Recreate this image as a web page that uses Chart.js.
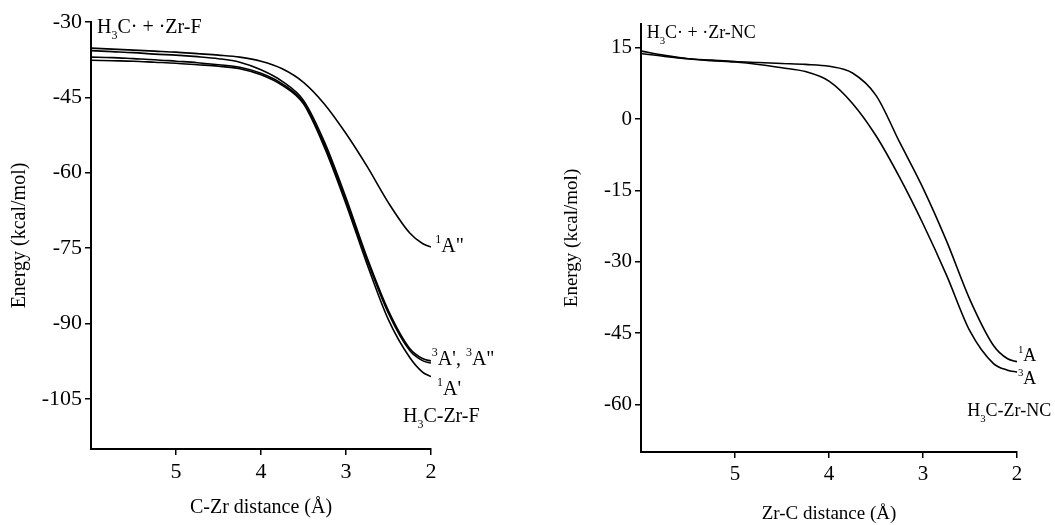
<!DOCTYPE html>
<html>
<head>
<meta charset="utf-8">
<script src="https://cdn.jsdelivr.net/npm/chart.js@4"></script>
<style>
    body { margin: 0; background: #fff; }
    .panel { position: absolute; top: 0; height: 525px; }
</style>
</head>
<body>
<div class="panel" style="left:0;width:527px"><canvas id="chartF"></canvas></div>
<div class="panel" style="left:527px;width:528px"><canvas id="chartNC"></canvas></div>
<script>
// C-Zr / Zr-C distance (Å)
const distances = [6, 5.75, 5.5, 5.25, 5, 4.75, 4.5, 4.25, 4, 3.75, 3.5, 3.25, 3, 2.75, 2.5, 2.25, 2.1, 2];
const xTicks = [5, 4, 3, 2];

// H3C-Zr-F states (kcal/mol)
const f1App = [-35.2, -35.4, -35.6, -35.8, -36.0, -36.3, -36.6, -37.0, -37.8, -39.3, -42.0, -46.4, -52.2, -58.8, -66.0, -72.0, -74.1, -74.8];
const f3Ap = [-35.7, -35.9, -36.1, -36.4, -36.6, -36.9, -37.3, -38.0, -39.5, -41.8, -45.6, -54.0, -65.0, -77.0, -87.5, -95.0, -97.0, -97.5];
const f3App = [-37.0, -37.1, -37.3, -37.5, -37.8, -38.1, -38.5, -39.0, -40.2, -42.3, -46.0, -54.6, -65.6, -77.5, -88.0, -95.4, -97.4, -97.9];
const f1Ap = [-37.6, -37.7, -37.8, -38.0, -38.2, -38.5, -38.8, -39.3, -40.5, -42.6, -46.3, -55.1, -66.2, -78.3, -89.3, -96.8, -99.7, -100.6];
const yTicksF = [-30, -45, -60, -75, -90, -105];

// H3C-Zr-NC states (kcal/mol)
const nc1A = [13.8, 13.2, 12.7, 12.4, 12.1, 11.9, 11.7, 11.5, 11.1, 9.7, 5.0, -4.8, -14.5, -25.6, -38.0, -47.6, -50.4, -51.0];
const nc3A = [14.3, 13.4, 12.7, 12.3, 12.0, 11.5, 10.8, 10.0, 8.0, 3.3, -3.5, -12.2, -22.0, -32.8, -44.6, -51.4, -52.8, -53.2];
const yTicksNC = [15, 0, -15, -30, -45, -60];

const FONT = 'Liberation Serif';

// text labels next to the curves, with sub/superscripts
const labelPlugin = {
    id: 'curveLabels',
    afterDraw(chart, args, opts) {
        const { ctx, scales: { x, y } } = chart;
        ctx.save();
        ctx.fillStyle = '#000';
        ctx.textBaseline = 'alphabetic';
        opts.items.forEach(item => {
            let px = x.getPixelForValue(item.x);
            const py = y.getPixelForValue(item.y);
            item.parts.forEach(([text, mode]) => {
                const size = mode ? opts.size * 0.6 : opts.size;
                ctx.font = size + 'px "' + FONT + '"';
                let dy = 0;
                if (mode === 'sub') dy = opts.size * 0.3;
                if (mode === 'sup') dy = -opts.size * 0.45;
                ctx.fillText(text, px, py + dy);
                px += ctx.measureText(text).width;
            });
        });
        ctx.restore();
    }
};

const line = (data) => ({
    data: data,
    borderColor: '#000',
    borderWidth: 1.6,
    pointRadius: 0,
    fill: false,
    cubicInterpolationMode: 'monotone'
});

function makeOptions(cfg) {
    return {
        responsive: true,
        maintainAspectRatio: false,
        animation: false,
        layout: { padding: cfg.padding },
        plugins: {
            legend: { display: false },
            tooltip: { enabled: false },
            curveLabels: { size: cfg.labelSize, items: cfg.labels }
        },
        scales: {
            x: {
                type: 'linear',
                reverse: true,
                min: 2,
                max: 6,
                afterBuildTicks: s => { s.ticks = xTicks.map(v => ({ value: v })); },
                afterFit: s => { s.height = cfg.xHeight; },
                grid: { drawOnChartArea: false, tickLength: 6, color: '#000', lineWidth: 1.5 },
                border: { color: '#000', width: 2 },
                ticks: { color: '#000', padding: 4, maxRotation: 0, font: { family: FONT, size: cfg.tickSize } },
                title: { display: true, text: cfg.xTitle, color: '#000', padding: { top: 0, bottom: cfg.xTitlePad }, font: { family: FONT, size: cfg.titleSize } }
            },
            y: {
                min: cfg.yMin,
                max: cfg.yMax,
                afterBuildTicks: s => { s.ticks = cfg.yTicks.map(v => ({ value: v })); },
                afterFit: s => { s.width = cfg.yWidth; },
                grid: { drawOnChartArea: false, tickLength: 6, color: '#000', lineWidth: 1.5 },
                border: { color: '#000', width: 2 },
                ticks: { color: '#000', padding: 3, font: { family: FONT, size: cfg.tickSize } },
                title: { display: true, text: 'Energy (kcal/mol)', color: '#000', padding: { top: cfg.yTitlePad, bottom: 0 }, font: { family: FONT, size: cfg.titleSize } }
            }
        }
    };
}

new Chart(document.getElementById('chartF'), {
    type: 'line',
    data: {
        labels: distances,
        datasets: [f1App, f3Ap, f3App, f1Ap].map(d => line(distances.map((x, i) => ({ x: x, y: d[i] }))))
    },
    options: makeOptions({
        padding: { left: 0, top: 22, right: 96, bottom: 0 },
        xHeight: 76, yWidth: 91, yMin: -115, yMax: -30, yTicks: yTicksF,
        tickSize: 22, titleSize: 20, labelSize: 20, xTitlePad: 5, yTitlePad: 8,
        xTitle: 'C-Zr distance (Å)',
        labels: [
            { x: 5.93, y: -32.2, parts: [['H'], ['3', 'sub'], ['C· + ·Zr-F']] },
            { x: 1.95, y: -75.8, parts: [['1', 'sup'], ['A"']] },
            { x: 1.99, y: -98.2, parts: [['3', 'sup'], ["A', "], ['3', 'sup'], ['A"']] },
            { x: 1.93, y: -104.2, parts: [['1', 'sup'], ["A'"]] },
            { x: 2.33, y: -109.6, parts: [['H'], ['3', 'sub'], ['C-Zr-F']] }
        ]
    }),
    plugins: [labelPlugin]
});

new Chart(document.getElementById('chartNC'), {
    type: 'line',
    data: {
        labels: distances,
        datasets: [nc1A, nc3A].map(d => line(distances.map((x, i) => ({ x: x, y: d[i] }))))
    },
    options: makeOptions({
        padding: { left: 0, top: 24, right: 38, bottom: 0 },
        xHeight: 73, yWidth: 114, yMin: -70, yMax: 20, yTicks: yTicksNC,
        tickSize: 21, titleSize: 19, labelSize: 18, xTitlePad: 0, yTitlePad: 34,
        xTitle: 'Zr-C distance (Å)',
        labels: [
            { x: 5.94, y: 17.0, parts: [['H'], ['3', 'sub'], ['C· + ·Zr-NC']] },
            { x: 1.99, y: -50.9, parts: [['1', 'sup'], ['A']] },
            { x: 1.99, y: -55.7, parts: [['3', 'sup'], ['A']] },
            { x: 2.53, y: -62.5, parts: [['H'], ['3', 'sub'], ['C-Zr-NC']] }
        ]
    }),
    plugins: [labelPlugin]
});
</script>
</body>
</html>
